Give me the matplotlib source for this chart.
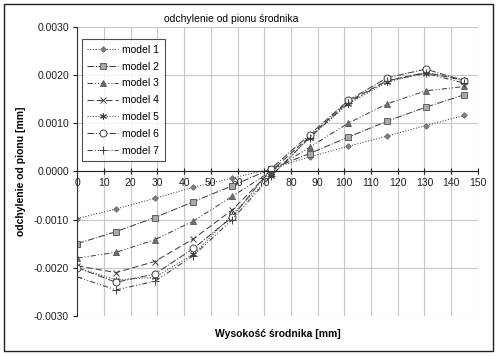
import matplotlib
matplotlib.use("Agg")
import matplotlib.pyplot as plt
from matplotlib.patches import Rectangle

plt.rcParams["font.family"] = ["Liberation Sans", "DejaVu Sans"]

# wysokosc srodnika [mm]
x = [0, 14.5, 29, 43.5, 58, 72.5, 87, 101.5, 116, 130.5, 145]

# odchylenie od pionu [mm]
model1 = [-0.00098, -0.00078, -0.00056, -0.00033, -0.00014, 0.00005, 0.00030, 0.00052, 0.00073, 0.00095, 0.00116]
model2 = [-0.00150, -0.00125, -0.00096, -0.00063, -0.00030, 0.00005, 0.00037, 0.00071, 0.00104, 0.00133, 0.00159]
model3 = [-0.00180, -0.00168, -0.00142, -0.00103, -0.00052, 0.00000, 0.00050, 0.00100, 0.00140, 0.00167, 0.00176]
model4 = [-0.00196, -0.00210, -0.00187, -0.00140, -0.00080, 0.00000, 0.00072, 0.00145, 0.00188, 0.00205, 0.00188]
model5 = [-0.00200, -0.00225, -0.00220, -0.00172, -0.00090, -0.00010, 0.00070, 0.00140, 0.00185, 0.00205, 0.00190]
model6 = [-0.00200, -0.00230, -0.00213, -0.00160, -0.00095, 0.00005, 0.00076, 0.00147, 0.00194, 0.00212, 0.00188]
model7 = [-0.00219, -0.00246, -0.00228, -0.00175, -0.00100, -0.00010, 0.00070, 0.00142, 0.00188, 0.00203, 0.00183]

labels = ["model 1", "model 2", "model 3", "model 4", "model 5", "model 6", "model 7"]
series = [model1, model2, model3, model4, model5, model6, model7]

dashdotdot = (0, (5, 2, 1, 2, 1, 2))
styles = [
    dict(ls=":", marker="D", ms=2.8, mfc="#808080", mec="#707070"),
    dict(ls="-.", marker="s", ms=4.5, mfc="#a8a8a8", mec="#606060"),
    dict(ls=dashdotdot, marker="^", ms=4, mfc="#707070", mec="#606060"),
    dict(ls=(0, (6, 3)), marker="x", ms=4.5, mec="#404040"),
    dict(ls=":", marker=(6, 2, 0), ms=5, mec="#404040"),
    dict(ls="-.", marker="o", ms=5, mfc="white", mec="#404040"),
    dict(ls=dashdotdot, marker="+", ms=5.5, mec="#404040"),
]

fig = plt.figure(figsize=(5.0, 3.56), dpi=100)
ax = fig.add_axes([0.1546, 0.1124, 0.801, 0.8126])

for y, lab, st in zip(series, labels, styles):
    ax.plot(x, y, color="#404040", lw=0.75, label=lab, mew=0.7, **st)

ax.set_xlim(0, 150)
ax.set_ylim(-0.003, 0.003)
ax.set_xticks(range(0, 151, 10))
ax.set_yticks([-0.003, -0.002, -0.001, 0, 0.001, 0.002, 0.003])
ax.yaxis.set_major_formatter(matplotlib.ticker.FormatStrFormatter("%.4f"))
ax.grid(True, color="#c8c8c8", lw=0.8)
ax.set_axisbelow(True)

ax.spines["bottom"].set_position(("data", 0))
ax.spines["top"].set_visible(False)
ax.spines["right"].set_visible(False)
ax.spines["left"].set_color("#303030")
ax.spines["bottom"].set_color("#202020")
ax.tick_params(axis="x", direction="inout", length=5, labelsize=7.5, pad=2, colors="#202020")
ax.tick_params(axis="y", direction="out", length=3, labelsize=7.5, pad=3, colors="#202020")

ax.set_xlabel("Wysokość środnika [mm]", fontsize=7.5, fontweight="bold")
ax.xaxis.set_label_coords(0.5, -0.045)
ax.set_ylabel("odchylenie od pionu [mm]", fontsize=7.5, fontweight="bold")
ax.yaxis.set_label_coords(-0.128, 0.5)

fig.text(0.463, 0.946, "odchylenie od pionu środnika", fontsize=7.5, ha="center", va="center")

leg = ax.legend(loc="upper left", bbox_to_anchor=(0.011, 0.956), borderaxespad=0,
                fancybox=False, fontsize=7.5, handlelength=3.0, labelspacing=0.66,
                borderpad=0.5, handletextpad=0.4)
leg.get_frame().set_edgecolor("#202020")
leg.get_frame().set_linewidth(0.8)

fig.patches.append(Rectangle((0.008, 0.014), 0.978, 0.975, transform=fig.transFigure,
                             fill=False, ec="#202020", lw=1.0))

fig.savefig("out.png", dpi=100)
